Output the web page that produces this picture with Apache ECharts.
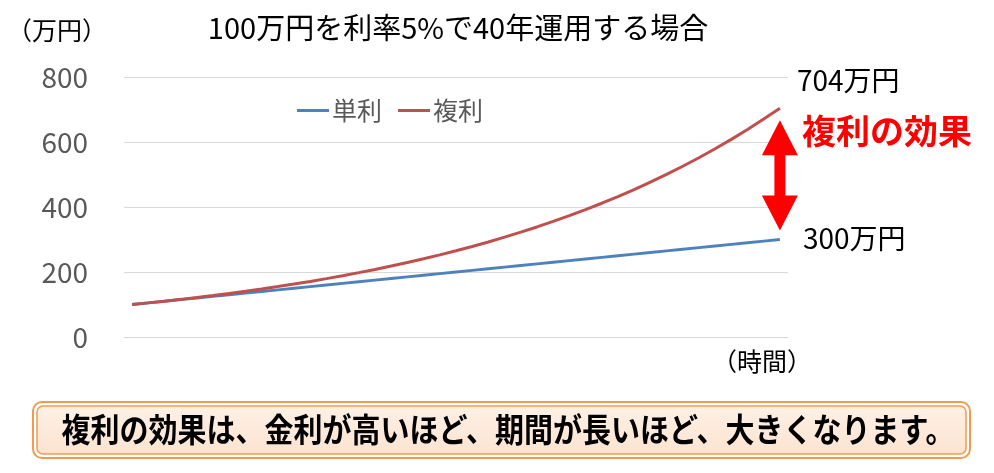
<!DOCTYPE html>
<html><head><meta charset="utf-8">
<script src="https://cdn.jsdelivr.net/npm/echarts@6/dist/echarts.min.js"></script>
<style>html,body{margin:0;padding:0;background:#fff}#c{width:994px;height:473px}</style>
</head><body><div id="c"></div>
<script>
const years = ['0','1','2','3','4','5','6','7','8','9','10','11','12','13','14','15','16','17','18','19','20','21','22','23','24','25','26','27','28','29','30','31','32','33','34','35','36','37','38','39','40'];
const simple = [100,105,110,115,120,125,130,135,140,145,150,155,160,165,170,175,180,185,190,195,200,205,210,215,220,225,230,235,240,245,250,255,260,265,270,275,280,285,290,295,300];
const compound = [100,105,110.3,115.8,121.6,127.6,134,140.7,147.7,155.1,162.9,171,179.6,188.6,198,207.9,218.3,229.2,240.7,252.7,265.3,278.6,292.5,307.2,322.5,338.6,355.6,373.4,392,411.6,432.2,453.8,476.5,500.3,525.3,551.6,579.2,608.1,638.5,670.5,704];
const yTicks = [0,200,400,600,800];
const seriesNames = ['単利','複利'];

const F = '"Noto Sans CJK JP", "Noto Sans", sans-serif';
const chart = echarts.init(document.getElementById('c'));
chart.setOption({
  animation:false,
  backgroundColor:'#fff',
  grid:{left:124,right:206,top:77,bottom:136},
  legend:{data:seriesNames,left:292,top:93,itemWidth:32,itemHeight:3,itemGap:16,icon:'rect',
    textStyle:{fontFamily:F,fontSize:25,color:'#595959',padding:[0,0,0,-2]}},
  xAxis:{type:'category',data:years,boundaryGap:true,
    axisLine:{lineStyle:{color:'#D9D9D9',width:1}},axisTick:{show:false},axisLabel:{show:false}},
  yAxis:{type:'value',min:yTicks[0],max:yTicks[yTicks.length-1],interval:200,
    axisLine:{show:false},axisTick:{show:false},
    splitLine:{lineStyle:{color:'#D9D9D9',width:1}},
    axisLabel:{fontFamily:F,fontSize:28,color:'#595959',margin:36}},
  series:[
    {name:seriesNames[0],type:'line',data:simple,showSymbol:false,smooth:false,lineStyle:{color:'#4F81BD',width:3},itemStyle:{color:'#4F81BD'}},
    {name:seriesNames[1],type:'line',data:compound,showSymbol:false,smooth:false,lineStyle:{color:'#C0504D',width:3},itemStyle:{color:'#C0504D'}}
  ]
});

const last = years.length-1;
const pTop = chart.convertToPixel({gridIndex:0},[last, compound[last]]);
const pBot = chart.convertToPixel({gridIndex:0},[last, simple[last]]);
const cx = pTop[0];
const t = pTop[1]+12, b = pBot[1]-9;
const hw = 18, sw = 5.5, hh = 35;
chart.setOption({graphic:[
  {type:'text',x:57,y:30,style:{text:'（万円）',font:'25px '+F,fill:'#000',align:'center',verticalAlign:'middle'},z:10},
  {type:'text',x:458,y:28,style:{text:'100万円を利率5%で40年運用する場合',font:'29px '+F,fill:'#000',align:'center',verticalAlign:'middle'}},
  {type:'text',x:797,y:80,style:{text:'704万円',font:'28px '+F,fill:'#000',verticalAlign:'middle'}},
  {type:'text',x:803,y:238,style:{text:'300万円',font:'28px '+F,fill:'#000',verticalAlign:'middle'}},
  {type:'text',x:802,y:131,style:{text:'複利の効果',font:'bold 34px '+F,fill:'#FF0000',verticalAlign:'middle'}},
  {type:'text',x:762,y:361,style:{text:'（時間）',font:'25px '+F,fill:'#000',align:'center',verticalAlign:'middle'}},
  {type:'polygon',shape:{points:[
    [cx,t],[cx+hw,t+hh],[cx+sw,t+hh],[cx+sw,b-hh],[cx+hw,b-hh],[cx,b],[cx-hw,b-hh],[cx-sw,b-hh],[cx-sw,t+hh],[cx-hw,t+hh]
  ]},style:{fill:'#FF0000'}},
  {type:'rect',shape:{x:33,y:402,width:937,height:56,r:9},style:{fill:'#fff',stroke:'#F39A52',lineWidth:2}},
  {type:'rect',shape:{x:37,y:406,width:929,height:48,r:6},style:{fill:{type:'linear',x:0,y:0,x2:0,y2:1,colorStops:[{offset:0,color:'#FEF1E6'},{offset:1,color:'#FCE3D0'}]},stroke:'#F39A52',lineWidth:1.5}},
  {type:'text',x:508,y:430,scaleY:1.12,originX:0,originY:0,style:{text:'複利の効果は、金利が高いほど、期間が長いほど、大きくなります。',font:'bold 29px '+F,fill:'#000',align:'center',verticalAlign:'middle'}}
]});
</script></body></html>
